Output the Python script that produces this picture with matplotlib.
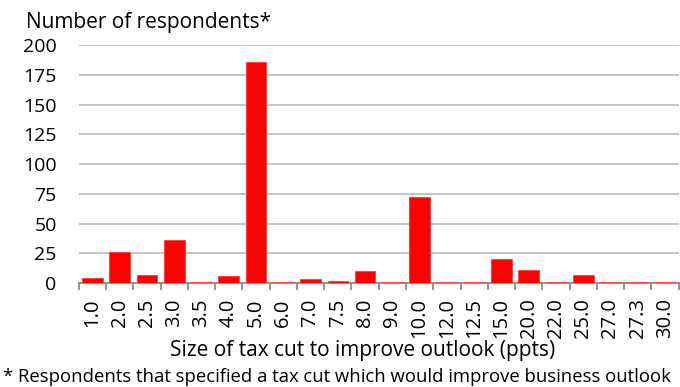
import matplotlib
matplotlib.use("Agg")
import matplotlib.pyplot as plt
import numpy as np

plt.rcParams['font.family'] = ['Open Sans', 'DejaVu Sans']

# Size of tax cut (ppts) and number of respondents choosing it
cut_sizes = ["1.0", "2.0", "2.5", "3.0", "3.5", "4.0", "5.0", "6.0", "7.0", "7.5", "8.0",
             "9.0", "10.0", "12.0", "12.5", "15.0", "20.0", "22.0", "25.0", "27.0", "27.3", "30.0"]
respondents = [4, 26, 7, 36, 1, 6, 186, 1, 3, 2, 10,
               1, 72, 1, 1, 20, 11, 1, 7, 1, 1, 1]
y_ticks = [0, 25, 50, 75, 100, 125, 150, 175, 200]

FS = 15
TICK_FS = 14
GRID = "#bfbfbf"
AXIS = "#8c8c8c"

fig = plt.figure(figsize=(6.8, 3.87), dpi=100)
ax = fig.add_axes([0.116, 0.2687, 0.882, 0.615])

x = np.arange(len(cut_sizes))
ax.bar(x, respondents, width=0.76, color="#ff0000", edgecolor="#ff3a3a",
       linewidth=0.6, zorder=3)

ax.set_xlim(-0.5, len(cut_sizes) - 0.5)
ax.set_ylim(0, 200)
ax.set_yticks(y_ticks)
ax.set_yticklabels([str(v) for v in y_ticks], fontsize=TICK_FS)
ax.yaxis.grid(True, color=GRID, linewidth=1.3, zorder=0)
ax.tick_params(axis="y", length=0, pad=16)

ax.set_xticks(x)
ax.set_xticklabels(cut_sizes, rotation=90, fontsize=TICK_FS + 0.5)
ax.tick_params(axis="x", which="major", length=0, pad=11)
ax.set_xticks(np.arange(-0.5, len(cut_sizes)), minor=True)
ax.tick_params(axis="x", which="minor", length=5, width=1.3, color=AXIS)

for side in ("top", "right", "left"):
    ax.spines[side].set_visible(False)
ax.spines["bottom"].set_color(AXIS)
ax.spines["bottom"].set_linewidth(1.3)
ax.spines["bottom"].set_zorder(2)

fig.text(0.038, 0.9276, "Number of respondents*", fontsize=FS, ha="left", va="baseline")
fig.text(0.533, 0.080, "Size of tax cut to improve outlook (ppts)", fontsize=FS,
         ha="center", va="baseline")
fig.text(0.004, 0.0132, "* Respondents that specified a tax cut which would improve business outlook",
         fontsize=13.3, ha="left", va="baseline")

fig.savefig("out.png", dpi=100)
